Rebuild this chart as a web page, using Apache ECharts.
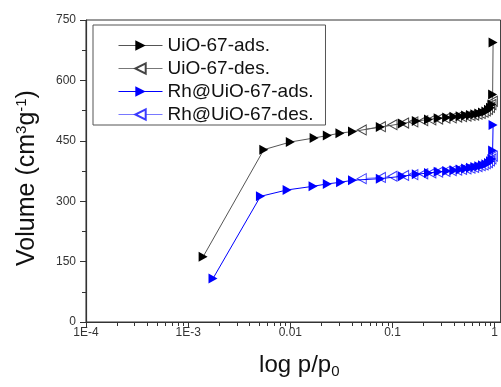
<!DOCTYPE html>
<html>
<head>
<meta charset="utf-8">
<script src="https://cdn.jsdelivr.net/npm/echarts@6/dist/echarts.min.js"></script>
<style>
  html, body { margin: 0; padding: 0; background: #fff; }
  #chart { width: 501px; height: 387px; }
</style>
</head>
<body>
<div id="chart"></div>
<script>
// 吸附等温线数据 [p/p0, volume]
const uioAds = [[0.0014, 162], [0.0055, 428], [0.0100, 447], [0.0171, 457], [0.023, 463], [0.0306, 469], [0.0406, 473], [0.076, 484], [0.125, 493], [0.171, 499], [0.225, 503], [0.28, 506], [0.34, 508], [0.40, 510], [0.46, 511], [0.52, 513], [0.58, 514], [0.64, 516], [0.70, 518], [0.76, 520], [0.82, 523], [0.87, 527], [0.91, 532], [0.94, 540], [0.955, 565], [0.965, 694]]
const uioDes = [[0.96, 548], [0.93, 540], [0.90, 533], [0.86, 528], [0.82, 524], [0.78, 521], [0.73, 518], [0.68, 516], [0.63, 514], [0.58, 513], [0.53, 511], [0.48, 510], [0.43, 509], [0.38, 507], [0.33, 506], [0.28, 504], [0.24, 502], [0.20, 500], [0.16, 497], [0.13, 494], [0.10, 490], [0.077, 485], [0.05, 477]]
const rhAds = [[0.00175, 108], [0.0051, 312], [0.0093, 328], [0.0167, 337], [0.023, 343], [0.031, 347], [0.0406, 352], [0.076, 356], [0.125, 362], [0.171, 367], [0.225, 370], [0.28, 373], [0.34, 375], [0.40, 377], [0.46, 379], [0.52, 381], [0.58, 383], [0.64, 385], [0.70, 387], [0.76, 389], [0.82, 392], [0.87, 395], [0.91, 399], [0.94, 405], [0.955, 426], [0.965, 489]]
const rhDes = [[0.96, 412], [0.93, 405], [0.90, 400], [0.86, 396], [0.82, 393], [0.78, 390], [0.73, 388], [0.68, 386], [0.63, 384], [0.58, 382], [0.53, 380], [0.48, 379], [0.43, 377], [0.38, 376], [0.33, 374], [0.28, 372], [0.24, 370], [0.20, 368], [0.16, 366], [0.13, 364], [0.10, 362], [0.077, 359], [0.05, 356]]

// 坐标轴刻度
const xMajorTicks = [1e-4, 1e-3, 0.01, 0.1, 1]
const xTickLabels = ['1E-4', '1E-3', '0.01', '0.1', '1']
const xMinorTicks = []
xMajorTicks.slice(0, 4).forEach(d => {
  for (let k = 2; k <= 9; k++) xMinorTicks.push(+(d * k).toPrecision(3))
})

const FONT = 'Arial, "Liberation Sans", sans-serif'
const RIGHT_TRI = 'path://M0,0L10,5L0,10Z'
const LEFT_TRI = 'path://M10,0L0,5L10,10Z'

const chart = echarts.init(document.getElementById('chart'))

const axisColor = '#333'

const optionData = {
  backgroundColor: '#fff',
  animation: false,
  textStyle: { fontFamily: FONT },
  grid: {
    left: 86,
    right: -2,
    top: 20,
    bottom: 65,
    show: true,
    borderColor: axisColor,
    borderWidth: 1
  },
  legend: {
    orient: 'vertical',
    left: 93,
    top: 25,
    padding: [11, 12, 1, 25],
    itemWidth: 44,
    itemHeight: 13,
    itemGap: 4,
    borderColor: '#555',
    borderWidth: 1,
    lineStyle: { width: 1 },
    textStyle: { fontSize: 19, color: '#111', fontFamily: FONT },
    data: ['UiO-67-ads.', 'UiO-67-des.', 'Rh@UiO-67-ads.', 'Rh@UiO-67-des.']
  },
  xAxis: [{
    type: 'log',
    logBase: 10,
    min: 1e-4,
    max: 1.143,
    name: '{a|log p/p}{b|0}',
    nameLocation: 'middle',
    nameGap: 30,
    nameTextStyle: {
      padding: [0, 0, 0, 12],
      rich: {
        a: { fontSize: 24, color: '#111', fontFamily: FONT },
        b: { fontSize: 15, color: '#111', fontFamily: FONT, padding: [12, 0, 0, 0] }
      }
    },
    axisLine: { show: true, lineStyle: { color: axisColor, width: 1.2 } },
    axisTick: { show: true, customValues: xMajorTicks, length: 6, lineStyle: { color: axisColor } },
    axisLabel: {
      customValues: xMajorTicks,
      margin: 5,
      fontSize: 12,
      color: '#333',
      formatter: v => xTickLabels[xMajorTicks.findIndex(t => Math.abs(Math.log10(t) - Math.log10(v)) < 1e-6)] || ''
    },
    splitLine: { show: false }
  }, {
    // 次刻度
    type: 'log',
    logBase: 10,
    min: 1e-4,
    max: 1.143,
    position: 'bottom',
    axisLine: { show: false },
    axisTick: { show: true, customValues: xMinorTicks, length: 4, lineStyle: { color: axisColor } },
    axisLabel: { show: false },
    splitLine: { show: false }
  }],
  yAxis: {
    type: 'value',
    min: 0,
    max: 750,
    interval: 150,
    name: '{a|Volume (cm}{b|3}{a|g}{b|-1}{a|)}',
    nameLocation: 'middle',
    nameGap: 45,
    nameTextStyle: {
      padding: [0, 14, 0, 0],
      rich: {
        a: { fontSize: 25, color: '#111', fontFamily: FONT },
        b: { fontSize: 15, color: '#111', fontFamily: FONT, padding: [0, 0, 12, 0] }
      }
    },
    axisLine: { show: true, lineStyle: { color: axisColor, width: 1.2 } },
    axisTick: { show: true, length: 6, lineStyle: { color: axisColor } },
    minorTick: { show: true, splitNumber: 2, length: 4, lineStyle: { color: axisColor } },
    axisLabel: { margin: 10, fontSize: 12, color: '#333' },
    splitLine: { show: false }
  },
  series: [{
    name: 'UiO-67-ads.',
    type: 'line',
    data: uioAds,
    symbol: RIGHT_TRI,
    symbolSize: [9, 10],
    lineStyle: { color: '#555', width: 1 },
    itemStyle: { color: '#000', borderWidth: 0 },
    z: 4
  }, {
    name: 'UiO-67-des.',
    type: 'line',
    data: uioDes,
    symbol: LEFT_TRI,
    symbolSize: [9, 10],
    lineStyle: { color: '#777', width: 1 },
    itemStyle: { color: '#fff', borderColor: '#444', borderWidth: 1 },
    z: 3
  }, {
    name: 'Rh@UiO-67-ads.',
    type: 'line',
    data: rhAds,
    symbol: RIGHT_TRI,
    symbolSize: [9, 10],
    lineStyle: { color: '#0000ff', width: 1 },
    itemStyle: { color: '#0000ff', borderWidth: 0 },
    z: 4
  }, {
    name: 'Rh@UiO-67-des.',
    type: 'line',
    data: rhDes,
    symbol: LEFT_TRI,
    symbolSize: [9, 10],
    lineStyle: { color: '#7878ff', width: 1 },
    itemStyle: { color: '#fff', borderColor: '#3a3aff', borderWidth: 1 },
    z: 3
  }]
}

chart.setOption(optionData)
</script>
</body>
</html>
